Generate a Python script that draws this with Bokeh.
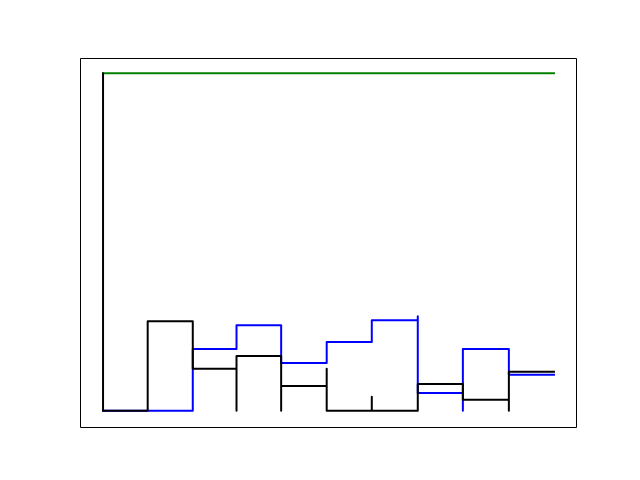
from bokeh.plotting import figure
from bokeh.models import Range1d
from bokeh.embed import file_html
from bokeh.resources import INLINE

# ---- data ----
edges = [0, 0.99, 1.99, 2.96, 3.95, 4.96, 5.96, 6.98, 7.98, 9.0, 10]
green_values = [100.6, 100.6, 100.6, 100.6, 100.6, 100.6, 100.6, 100.6, 100.6, 100.6]
blue_values = [0, 0, 18.4, 25.5, 14.2, 20.5, 27.0, 5.3, 18.4, 10.7]
black_values = [0, 26.7, 12.5, 16.3, 7.4, 0, 0, 8.0, 3.3, 11.6]
# extra vertical strokes at bin edges (edge index, low, high)
black_spike_edges = [0, 3, 4, 5, 6, 9]
black_spike_low = [0, 0, 0, 0, 0, 0]
black_spike_high = [100.6, 12.5, 7.4, 12.5, 4.2, 3.3]
blue_spike_edges = [7, 8]
blue_spike_low = [27.0, 0]
blue_spike_high = [28.2, 5.3]

p = figure(width=624, height=464, output_backend="svg", toolbar_location=None,
           x_range=Range1d(-0.5, 10.5), y_range=Range1d(-5, 105),
           x_axis_location=None, y_axis_location=None,
           min_border_left=80, min_border_right=48, min_border_top=58, min_border_bottom=37)
p.grid.visible = False
p.outline_line_color = "black"
p.outline_line_width = 1
p.background_fill_color = "white"
p.border_fill_color = "white"


def stair_path(values, spike_e, spike_lo, spike_hi):
    spikes = {e: (lo, hi) for e, lo, hi in zip(spike_e, spike_lo, spike_hi)}
    xs, ys = [], []
    n = len(values)
    for i in range(n + 1):
        e = edges[i]
        prev = values[i - 1] if i > 0 else None
        nxt = values[i] if i < n else None
        pts = []
        if prev is not None:
            pts.append(prev)
        if i in spikes:
            lo, hi = spikes[i]
            ref = prev if prev is not None else nxt
            if abs(ref - lo) <= abs(ref - hi):
                pts += [lo, hi]
            else:
                pts += [hi, lo]
        if nxt is not None:
            pts.append(nxt)
        for v in pts:
            xs.append(e)
            ys.append(v)
    return xs, ys


gx, gy = stair_path(green_values, [], [], [])
p.line(gx, gy, line_color="green", line_width=2, line_cap="square", line_join="round")
bx, by = stair_path(blue_values, blue_spike_edges, blue_spike_low, blue_spike_high)
p.line(bx, by, line_color="blue", line_width=2, line_cap="square", line_join="round")
kx, ky = stair_path(black_values, black_spike_edges, black_spike_low, black_spike_high)
p.line(kx, ky, line_color="black", line_width=2, line_cap="square", line_join="round")

open("out.html", "w").write(file_html(p, INLINE))
